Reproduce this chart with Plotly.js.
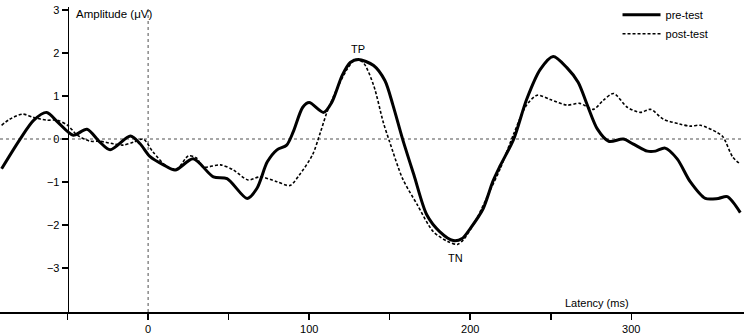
<!DOCTYPE html>
<html>
<head>
<meta charset="utf-8">
<script src="https://cdn.plot.ly/plotly-3.0.1.min.js"></script>
<style>
  html, body { margin: 0; padding: 0; background: #fff; }
  #chart { width: 744px; height: 335px; }
</style>
</head>
<body>
<div id="chart"></div>
<script>
// ERP waveforms, latency in ms, amplitude in µV
const preLatency = [-91, -79.5, -71, -63, -56, -46.5, -38, -30, -23.6, -11, -5, 1.2, 9.5, 16.8, 28, 40.5, 49,
  61.5, 67.5, 74, 80, 86, 90, 96, 100, 109, 114, 120.5, 125.5, 130.5, 140, 147, 152, 158, 165, 173, 181,
  189.5, 195, 200, 208, 214, 218.6, 227, 235, 243.5, 251.5, 260, 267, 272.7, 279, 286, 295, 301, 310, 315,
  321, 328.5, 336.6, 346, 354, 359.6, 367.7];
const preAmp = [-0.69, 0, 0.44, 0.62, 0.39, 0.09, 0.23, -0.07, -0.25, 0.07, -0.11, -0.41, -0.6, -0.72, -0.46, -0.88, -0.92,
  -1.38, -1.15, -0.53, -0.25, -0.14, 0.16, 0.74, 0.85, 0.62, 0.85, 1.48, 1.78, 1.85, 1.71, 1.36, 0.79, 0, -0.83, -1.76, -2.15,
  -2.36, -2.31, -2.08, -1.62, -0.99, -0.62, 0, 0.92, 1.62, 1.92, 1.66, 1.32, 0.79, 0.23, -0.05, 0, -0.11, -0.28, -0.28,
  -0.21, -0.46, -0.99, -1.38, -1.38, -1.34, -1.71];

const postLatency = [-91, -86, -78, -71, -63, -56.5, -50, -44, -36, -30, -21.7, -15.5, -9, -3, 3, 12, 18, 25, 30, 34,
  45, 53, 62, 69.5, 80, 88, 94, 102, 107, 111, 117, 123.5, 128.5, 133.5, 140, 146, 150, 158, 167, 177, 186, 192,
  196, 204, 212, 218.6, 227, 235, 241.6, 249.7, 260, 268, 276.4, 282.6, 289, 297.5, 305.6, 312, 320, 330, 336.6,
  343, 353, 357, 363, 367.7];
const postAmp = [0.32, 0.46, 0.58, 0.5, 0.44, 0.44, 0.32, 0.09, -0.05, -0.05, -0.11, -0.14, -0.07, 0, -0.3, -0.65, -0.69, -0.39, -0.44, -0.65,
  -0.6, -0.72, -0.95, -0.88, -0.99, -1.08, -0.83, -0.37, 0.16, 0.62, 1.15, 1.62, 1.85, 1.78, 1.25, 0.39, -0.07, -0.92, -1.52, -2.15, -2.38, -2.45,
  -2.33, -1.85, -1.22, -0.69, 0.12, 0.79, 1.02, 0.92, 0.79, 0.83, 0.69, 0.9, 1.06, 0.74, 0.62, 0.69, 0.46, 0.35, 0.3,
  0.32, 0.16, 0.05, -0.42, -0.58];

const xRange = [-92, 370];
const yRange = [-4.02, 3.07];
const yAxisAt = -50;
const xTickVals = [-50, 0, 50, 100, 150, 200, 250, 300];
const xTickText = ["", "0", "", "100", "", "200", "", "300"];
const yTickVals = [-3, -2, -1, 0, 1, 2, 3];

const font = { family: "Liberation Sans, Arial, sans-serif", size: 11, color: "#000" };
const dotLine = { color: "#8a8a8a", width: 1.5, dash: "dot" };

Plotly.newPlot("chart", [
  {
    x: preLatency, y: preAmp, name: "pre-test", mode: "lines",
    line: { color: "#000", width: 3, shape: "spline", smoothing: 0.8 },
  },
  {
    x: postLatency, y: postAmp, name: "post-test", mode: "lines",
    line: { color: "#000", width: 1.6, dash: "3px,2px", shape: "spline", smoothing: 0.8 },
  },
], {
  width: 744, height: 335,
  margin: { l: 0, r: 0, t: 5, b: 23 },
  paper_bgcolor: "#fff", plot_bgcolor: "#fff",
  font: font,
  showlegend: true,
  legend: {
    x: 0.83, y: 1.022, xanchor: "left", yanchor: "top", itemwidth: 38,
    bgcolor: "rgba(0,0,0,0)", font: font,
  },
  xaxis: {
    range: xRange, showgrid: false, zeroline: false,
    showline: true, linecolor: "#000", linewidth: 1.5,
    ticks: "outside", ticklen: 6, tickwidth: 1.5, tickcolor: "#000",
    tickvals: xTickVals, ticktext: xTickText, tickfont: font,
  },
  yaxis: {
    range: yRange, showgrid: false, zeroline: false,
    anchor: "free", position: (yAxisAt - xRange[0]) / (xRange[1] - xRange[0]),
    showline: true, linecolor: "#000", linewidth: 1.5,
    ticks: "outside", ticklen: 6, tickwidth: 1.5, tickcolor: "#000",
    tickvals: yTickVals, tickfont: font,
  },
  shapes: [
    { type: "line", xref: "paper", x0: 0, x1: 1, yref: "y", y0: 0, y1: 0, line: dotLine, layer: "below" },
    { type: "line", xref: "x", x0: 0, x1: 0, yref: "paper", y0: 0, y1: 1, line: dotLine, layer: "below" },
  ],
  annotations: [
    { text: "Amplitude (μV)", xref: "paper", x: 0.1, xanchor: "left", yref: "y", y: 2.9, showarrow: false,
      font: Object.assign({}, font, { size: 11.5 }) },
    { text: "Latency (ms)", xref: "x", x: 279, yref: "y", y: -3.81, showarrow: false, font: font },
    { text: "TP", xref: "x", x: 130, yref: "y", y: 2.1, showarrow: false, font: font },
    { text: "TN", xref: "x", x: 191, yref: "y", y: -2.77, showarrow: false, font: font },
  ],
}, { displayModeBar: false, staticPlot: true });
</script>
</body>
</html>
